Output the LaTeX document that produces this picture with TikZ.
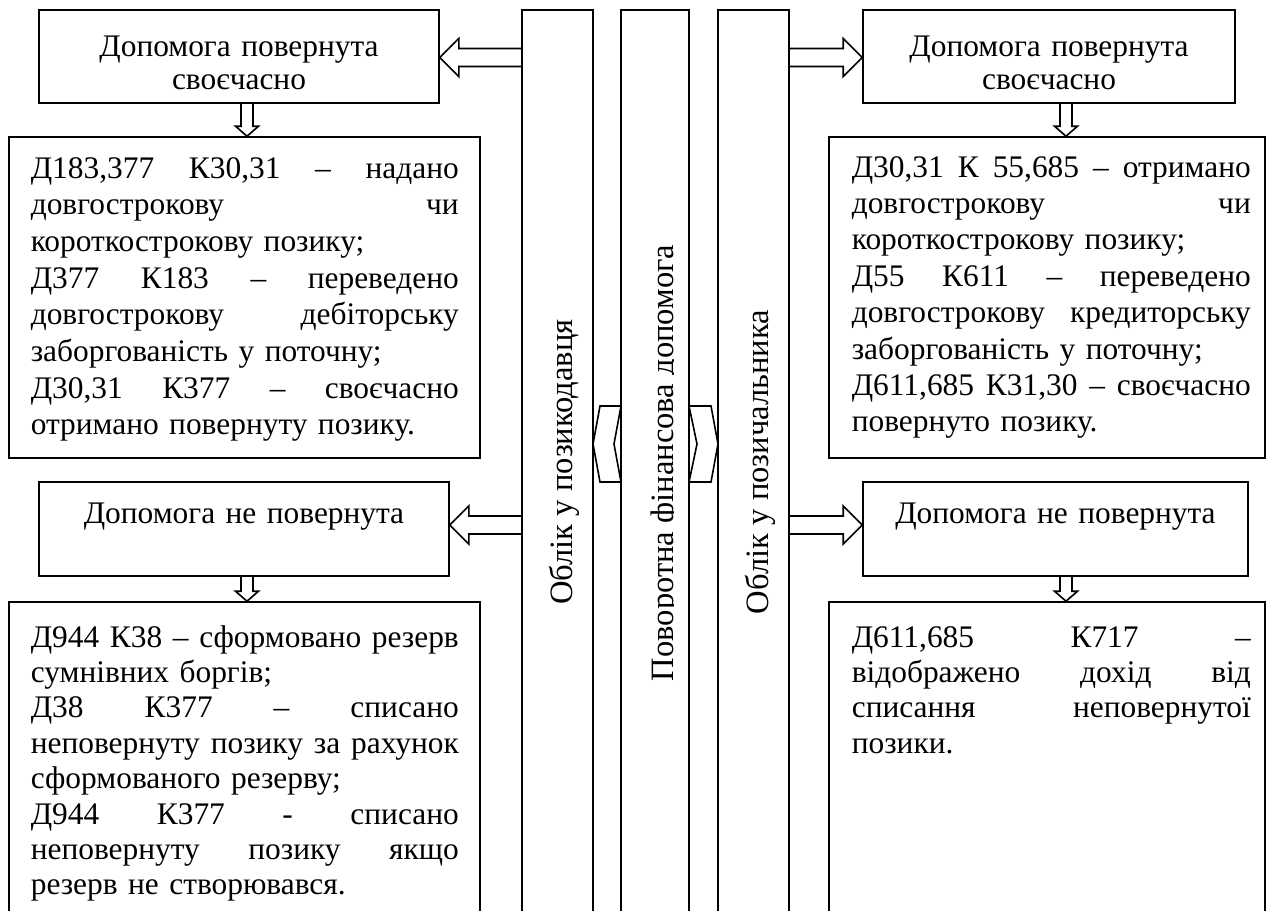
\documentclass[tikz,border=0pt]{standalone}
\usepackage{fontspec}
\setmainfont{Liberation Serif}
\usetikzlibrary{calc,fit}

% one fully justified line of a text block: spaces share the slack evenly
\newcommand\justline[1]{\leavevmode\hbox to \hsize{\spaceskip=0.25em plus 1fil\relax #1}}

\tikzset{
  frame/.style={draw, fill=white, inner sep=0pt},
  chev/.style={draw, fill=white, line join=miter},
  body/.style={anchor=base west, inner sep=0pt, align=left},
  head/.style={anchor=base, inner sep=0pt, align=center, text width=190pt,
    font=\fontsize{15.7pt}{16.5pt}\selectfont},
  vtext/.style={rotate=90, anchor=base, inner sep=0pt,
    font=\fontsize{16.3pt}{19pt}\selectfont},
  % hollow block arrow, horizontal
  blockh/.style={line join=miter, to path={
    let \p1=(\tikztostart), \p2=(\tikztotarget), \n1={sign(\x2-\x1)} in
    (\x1,{\y1+4.5pt}) -- ({\x2-(\n1)*9.5pt},{\y1+4.5pt})
    -- ({\x2-(\n1)*9.5pt},{\y1+9.5pt}) -- (\x2,\y1)
    -- ({\x2-(\n1)*9.5pt},{\y1-9.5pt}) -- ({\x2-(\n1)*9.5pt},{\y1-4.5pt})
    -- (\x1,{\y1-4.5pt})}},
  % hollow block arrow, vertical
  blockv/.style={line join=miter, to path={
    let \p1=(\tikztostart), \p2=(\tikztotarget), \n1={sign(\y2-\y1)} in
    ({\x1-3pt},\y1) -- ({\x1-3pt},{\y2-(\n1)*5pt})
    -- ({\x1-5.75pt},{\y2-(\n1)*5pt}) -- (\x1,\y2)
    -- ({\x1+5.75pt},{\y2-(\n1)*5pt}) -- ({\x1+3pt},{\y2-(\n1)*5pt})
    -- ({\x1+3pt},\y1)}},
}

\begin{document}
\begin{tikzpicture}[x=0.5pt, y=-0.5pt, line width=0.8pt]
\useasboundingbox (0,0) rectangle (1268,910);
\clip (0,0) rectangle (1268,910);

% the three vertical bands
\node[frame, fit={(522,10) (593,940)}] (col1) {};
\node[frame, fit={(621,10) (689,940)}] (col2) {};
\node[frame, fit={(718,10) (789,940)}] (col3) {};

% boxes
\node[frame, fit={(39,10) (439,103)}] (lt) {};
\node[frame, fit={(863,10) (1235,103)}] (rt) {};
\node[frame, fit={(9,137) (480,458)}] (lb2) {};
\node[frame, fit={(829,137) (1265,458)}] (rb2) {};
\node[frame, fit={(39,482) (449,576)}] (lb3) {};
\node[frame, fit={(863,482) (1248,576)}] (rb3) {};
\node[frame, fit={(9,602) (480,940)}] (lb4) {};
\node[frame, fit={(829,602) (1265,940)}] (rb4) {};

% arrow levels
\coordinate (ytop) at (0,57.5);
\coordinate (ylow) at (0,525);
\coordinate (xl) at (247,0);
\coordinate (xr) at (1066,0);

\draw[blockh] (col1.west |- ytop) to (lt.east |- ytop);
\draw[blockh] (col3.east |- ytop) to (rt.west |- ytop);
\draw[blockh] (col1.west |- ylow) to (lb3.east |- ylow);
\draw[blockh] (col3.east |- ylow) to (rb3.west |- ylow);
\draw[blockv] (xl |- lt.south) to (xl |- lb2.north);
\draw[blockv] (xr |- rt.south) to (xr |- rb2.north);
\draw[blockv] (xl |- lb3.south) to (xl |- lb4.north);
\draw[blockv] (xr |- rb3.south) to (xr |- rb4.north);

% chevrons between the bands
\draw[chev] (600,406) -- (621,406) -- (614,444) -- (621,482) -- (600,482) -- (593,444) -- cycle;
\draw[chev] (689,406) -- (711,406) -- (718,444) -- (711,482) -- (689,482) -- (697,444) -- cycle;

% headings
\node[head] (ltT) at (239,56) {Допомога повернута\\своєчасно};
\node[head] (rtT) at (1049,56) {Допомога повернута\\своєчасно};
\node[head] (lb3T) at (244,523) {Допомога не повернута};
\node[head] (rb3T) at (1055.5,523) {Допомога не повернута};

% entries
\node[body, text width=214pt, font=\fontsize{15.7pt}{18.35pt}\selectfont] (lb2T) at (30,178) {%
\justline{Д183,377 К30,31 – надано}\\
\justline{довгострокову чи}\\
короткострокову позику;\\
\justline{Д377 К183 – переведено}\\
\justline{довгострокову дебіторську}\\
заборгованість у поточну;\\
\justline{Д30,31 К377 – своєчасно}\\
отримано повернуту позику.};

\node[body, text width=199.5pt, font=\fontsize{15.7pt}{18.2pt}\selectfont] (rb2T) at (851,177) {%
\justline{Д30,31 К 55,685 – отримано}\\
\justline{довгострокову чи}\\
короткострокову позику;\\
\justline{Д55 К611 – переведено}\\
\justline{довгострокову кредиторську}\\
заборгованість у поточну;\\
\justline{Д611,685 К31,30 – своєчасно}\\
повернуто позику.};

\node[body, text width=214pt, font=\fontsize{15.7pt}{17.7pt}\selectfont] (lb4T) at (30,647) {%
\justline{Д944 К38 – сформовано резерв}\\
сумнівних боргів;\\
\justline{Д38 К377 – списано}\\
\justline{неповернуту позику за рахунок}\\
сформованого резерву;\\
\justline{Д944 К377 - списано}\\
\justline{неповернуту позику якщо}\\
резерв не створювався.};

\node[body, text width=199.5pt, font=\fontsize{15.7pt}{17.7pt}\selectfont] (rb4T) at (851,647) {%
\justline{Д611,685 К717 –}\\
\justline{відображено дохід від}\\
\justline{списання неповернутої}\\
позики.};

% band captions
\node[vtext] (c1T) at (572,462) {Облік у позикодавця};
\begin{scope}
  \clip (621,10) rectangle (673,910);
  \node[vtext] (c2T) at (673,463) {Поворотна фінансова допомога};
\end{scope}
\node[vtext] (c3T) at (768,462) {Облік у позичальника};
\end{tikzpicture}
\end{document}
